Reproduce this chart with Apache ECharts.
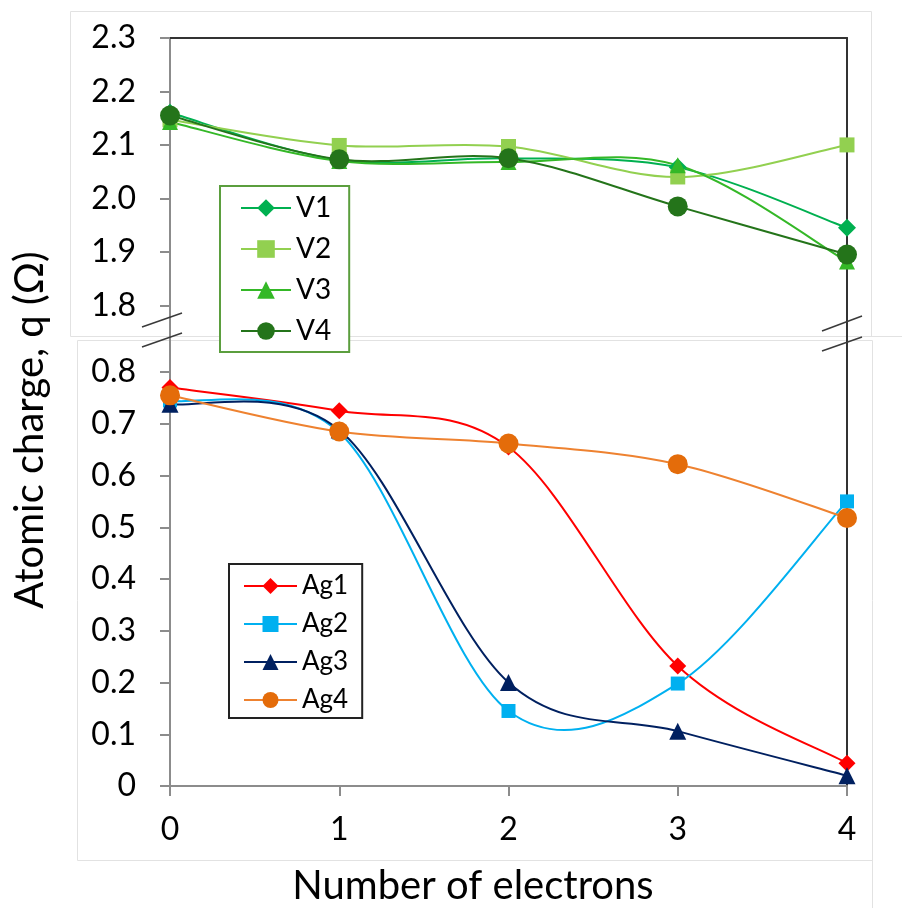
<!DOCTYPE html>
<html>
<head>
<meta charset="utf-8">
<script src="https://cdn.jsdelivr.net/npm/echarts@6/dist/echarts.min.js"></script>
<style>
  html, body { margin: 0; padding: 0; background: #ffffff; }
  #chart { width: 902px; height: 908px; }
</style>
</head>
<body>
<div id="chart"></div>
<script>
// Number of added electrons (shared x axis)
const electrons = [0, 1, 2, 3, 4];

// Vanadium site charges (upper panel)
const V1 = [2.160, 2.072, 2.075, 2.058, 1.945];
const V2 = [2.147, 2.099, 2.097, 2.040, 2.100];
const V3 = [2.143, 2.070, 2.068, 2.062, 1.882];
const V4 = [2.155, 2.073, 2.075, 1.985, 1.895];

// Silver site charges (lower panel)
const Ag1 = [0.770, 0.725, 0.655, 0.232, 0.044];
const Ag2 = [0.745, 0.683, 0.145, 0.198, 0.550];
const Ag3 = [0.738, 0.688, 0.200, 0.106, 0.020];
const Ag4 = [0.755, 0.685, 0.662, 0.622, 0.518];

// Tick labels
const upperTicks = [1.8, 1.9, 2.0, 2.1, 2.2, 2.3];
const lowerTicks = [0, 0.1, 0.2, 0.3, 0.4, 0.5, 0.6, 0.7, 0.8];
const xTickLabels = ['0', '1', '2', '3', '4'];

const FONT = 'Lato';
const AXIS_GRAY = '#8c8c8c';
const BORDER = '#333333';

const pairs = ys => electrons.map((x, i) => [x, ys[i]]);

// Cardinal (Catmull-Rom) spline through the projected points, like a
// spreadsheet "smoothed line": it may swing past the points between them.
function splineCurves(pts, stroke) {
  const children = [];
  for (let i = 0; i < pts.length - 1; i++) {
    const p0 = pts[i - 1] || pts[i];
    const p1 = pts[i];
    const p2 = pts[i + 1];
    const p3 = pts[i + 2] || pts[i + 1];
    children.push({
      type: 'bezierCurve',
      shape: {
        x1: p1[0], y1: p1[1],
        cpx1: p1[0] + (p2[0] - p0[0]) / 6, cpy1: p1[1] + (p2[1] - p0[1]) / 6,
        cpx2: p2[0] - (p3[0] - p1[0]) / 6, cpy2: p2[1] - (p3[1] - p1[1]) / 6,
        x2: p2[0], y2: p2[1]
      },
      style: { stroke, lineWidth: 2, fill: null, lineCap: 'round' }
    });
  }
  return { type: 'group', children };
}

function curveSeries(name, ys, color, xi, yi) {
  return {
    name: name + ' curve', type: 'custom',
    xAxisIndex: xi, yAxisIndex: yi,
    data: pairs(ys),
    silent: true, animation: false,
    renderItem: (params, api) => {
      if (params.dataIndex !== 0) return null;
      const pts = electrons.map((x, i) => api.coord([x, ys[i]]));
      return splineCurves(pts, color);
    }
  };
}

function markerSeries(name, ys, color, symbol, size, xi, yi, lineColor) {
  return {
    name, type: 'line', data: pairs(ys),
    xAxisIndex: xi, yAxisIndex: yi,
    symbol, symbolSize: size,
    showAllSymbol: true,
    itemStyle: { color, borderWidth: 0 },
    // the visible curve is drawn by the companion custom series
    lineStyle: { color: lineColor || color, width: 2, opacity: 0 },
    emphasis: { disabled: true },
    animation: false
  };
}

function seriesPair(name, ys, color, symbol, size, xi, yi, lineColor) {
  return [
    curveSeries(name, ys, lineColor || color, xi, yi),
    markerSeries(name, ys, color, symbol, size, xi, yi, lineColor)
  ];
}

const tickLabelStyle = { color: '#000', fontFamily: FONT, fontSize: 32 };

const chart = echarts.init(document.getElementById('chart'), null, { renderer: 'canvas' });

chart.setOption({
  backgroundColor: '#ffffff',
  animation: false,
  grid: [
    { left: 170, right: 55, top: 38, height: 294 },
    { left: 170, right: 55, top: 341, bottom: 122 }
  ],
  xAxis: [
    {
      gridIndex: 0, type: 'value', min: 0, max: 4, interval: 1, position: 'top',
      axisLine: { show: true, onZero: false, lineStyle: { color: BORDER, width: 2 } },
      axisTick: { show: false }, axisLabel: { show: false }, splitLine: { show: false }
    },
    {
      gridIndex: 1, type: 'value', min: 0, max: 4, interval: 1, position: 'bottom',
      axisLine: { show: true, onZero: false, lineStyle: { color: AXIS_GRAY, width: 2 } },
      axisTick: { show: true, length: 10, lineStyle: { color: AXIS_GRAY, width: 2 } },
      axisLabel: Object.assign({ margin: 28, formatter: v => xTickLabels[electrons.indexOf(v)] ?? '' }, tickLabelStyle),
      splitLine: { show: false }
    }
  ],
  yAxis: [
    {
      gridIndex: 0, type: 'value', min: 1.75, max: 2.3, position: 'left',
      axisLine: { show: true, onZero: false, lineStyle: { color: AXIS_GRAY, width: 2 } },
      axisTick: { show: true, length: 10, customValues: upperTicks, lineStyle: { color: AXIS_GRAY, width: 2 } },
      axisLabel: Object.assign({ margin: 34, customValues: upperTicks, formatter: v => v.toFixed(1) }, tickLabelStyle),
      splitLine: { show: false }
    },
    {
      gridIndex: 0, type: 'value', min: 1.75, max: 2.3, position: 'right',
      axisLine: { show: true, onZero: false, lineStyle: { color: BORDER, width: 2 } },
      axisTick: { show: false }, axisLabel: { show: false }, splitLine: { show: false }
    },
    {
      gridIndex: 1, type: 'value', min: 0, max: 0.86, position: 'left',
      axisLine: { show: true, onZero: false, lineStyle: { color: AXIS_GRAY, width: 2 } },
      axisTick: { show: true, length: 10, customValues: lowerTicks, lineStyle: { color: AXIS_GRAY, width: 2 } },
      axisLabel: Object.assign({ margin: 34, customValues: lowerTicks, formatter: v => v === 0 ? '0' : v.toFixed(1) }, tickLabelStyle),
      splitLine: { show: false }
    },
    {
      gridIndex: 1, type: 'value', min: 0, max: 0.86, position: 'right',
      axisLine: { show: true, onZero: false, lineStyle: { color: BORDER, width: 2 } },
      axisTick: { show: false }, axisLabel: { show: false }, splitLine: { show: false }
    }
  ],
  legend: [
    {
      data: ['V1', 'V2', 'V3', 'V4'],
      orient: 'vertical', left: 220, top: 186,
      itemWidth: 50, itemHeight: 22, itemGap: 13,
      padding: [8, 18, 7, 20],
      borderColor: '#5b9e3e', borderWidth: 2, backgroundColor: '#ffffff',
      lineStyle: { opacity: 1 },
      textStyle: { color: '#000', fontFamily: FONT, fontSize: 28 },
      selectedMode: false
    },
    {
      data: ['Ag1', 'Ag2', 'Ag3', 'Ag4'],
      orient: 'vertical', left: 229, top: 564,
      itemWidth: 53, itemHeight: 20, itemGap: 12,
      padding: [9, 14, 5, 14],
      borderColor: '#222222', borderWidth: 2, backgroundColor: '#ffffff',
      lineStyle: { opacity: 1 },
      textStyle: { color: '#000', fontFamily: FONT, fontSize: 26 },
      selectedMode: false
    }
  ],
  series: [].concat(
    seriesPair('V1', V1, '#00b050', 'diamond', 18, 0, 0),
    seriesPair('V2', V2, '#92d050', 'rect', 15, 0, 0),
    seriesPair('V3', V3, '#34b827', 'triangle', 16, 0, 0),
    seriesPair('V4', V4, '#24741a', 'circle', 20, 0, 0),
    seriesPair('Ag1', Ag1, '#ff0000', 'diamond', 17, 1, 2),
    seriesPair('Ag2', Ag2, '#00b0f0', 'rect', 14, 1, 2),
    seriesPair('Ag3', Ag3, '#002060', 'triangle', 17, 1, 2),
    seriesPair('Ag4', Ag4, '#e46c0a', 'circle', 20, 1, 2, '#ee8230')
  ),
  graphic: [
    // light outer frames of the two stacked panels
    { type: 'rect', z: -5, shape: { x: 70.5, y: 11.5, width: 801, height: 325 }, style: { fill: '#ffffff', stroke: '#e2e2e2', lineWidth: 1 } },
    { type: 'rect', z: -4, shape: { x: 77.5, y: 340.5, width: 795, height: 520 }, style: { fill: '#ffffff', stroke: '#e2e2e2', lineWidth: 1 } },
    { type: 'line', z: -4, shape: { x1: 872.5, y1: 860, x2: 872.5, y2: 908 }, style: { stroke: '#e2e2e2', lineWidth: 1 } },
    { type: 'line', z: -4, shape: { x1: 871, y1: 336.5, x2: 902, y2: 336.5 }, style: { stroke: '#e2e2e2', lineWidth: 1 } },
    // axis continuation across the break
    { type: 'line', z: 1, shape: { x1: 170, y1: 330, x2: 170, y2: 343 }, style: { stroke: AXIS_GRAY, lineWidth: 2 } },
    { type: 'line', z: 1, shape: { x1: 847, y1: 330, x2: 847, y2: 343 }, style: { stroke: BORDER, lineWidth: 2 } },
    // axis break marks
    { type: 'line', z: 5, shape: { x1: 142, y1: 327, x2: 182, y2: 313 }, style: { stroke: '#3a3a3a', lineWidth: 1.5 } },
    { type: 'line', z: 5, shape: { x1: 142, y1: 347, x2: 182, y2: 333 }, style: { stroke: '#3a3a3a', lineWidth: 1.5 } },
    { type: 'line', z: 5, shape: { x1: 822, y1: 331, x2: 862, y2: 316 }, style: { stroke: '#3a3a3a', lineWidth: 1.5 } },
    { type: 'line', z: 5, shape: { x1: 822, y1: 351, x2: 862, y2: 337 }, style: { stroke: '#3a3a3a', lineWidth: 1.5 } },
    // axis titles
    {
      type: 'text', z: 5, x: 30, y: 430, rotation: Math.PI / 2,
      style: { text: 'Atomic charge, q (Ω)', fill: '#000', font: '40px Lato', textAlign: 'center', textVerticalAlign: 'middle' }
    },
    {
      type: 'text', z: 5, x: 473, y: 886,
      style: { text: 'Number of electrons', fill: '#000', font: '40px Lato', textAlign: 'center', textVerticalAlign: 'middle' }
    }
  ]
});
</script>
</body>
</html>
